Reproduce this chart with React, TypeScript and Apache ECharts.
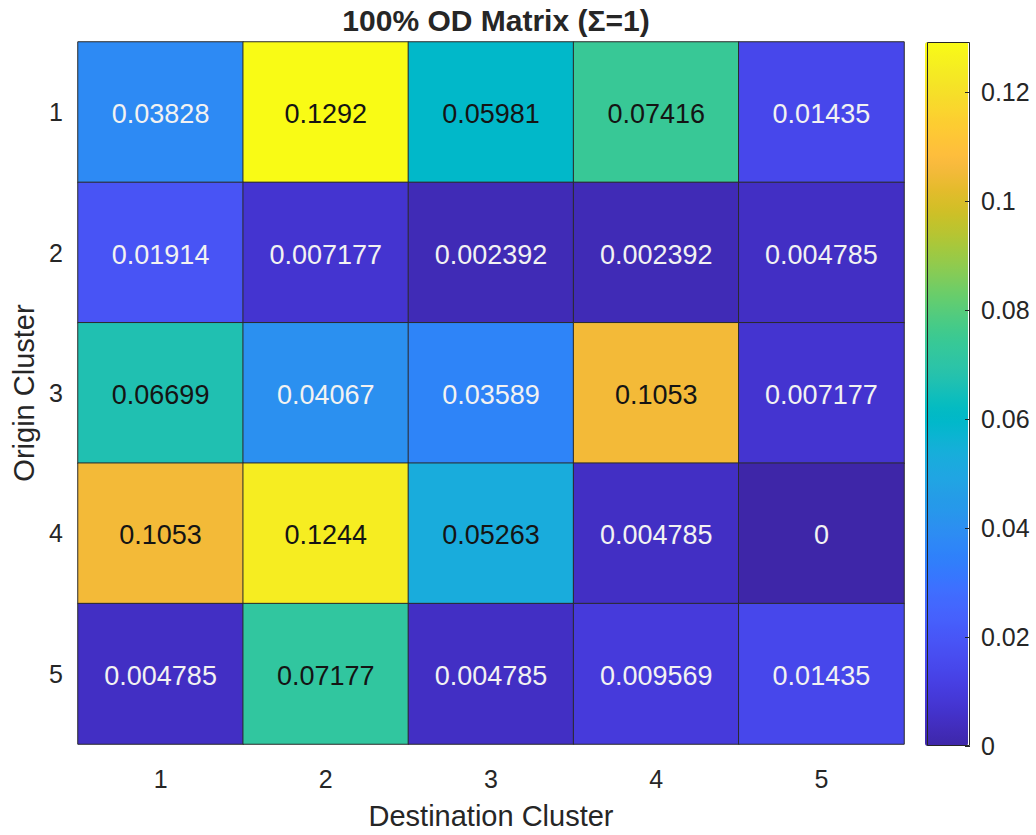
import React, { useEffect, useRef } from "react";
import * as echarts from "echarts";

const destinations = ["1", "2", "3", "4", "5"];
const origins = ["1", "2", "3", "4", "5"];
const row1 = [0.03828, 0.1292, 0.05981, 0.07416, 0.01435];
const row2 = [0.01914, 0.007177, 0.002392, 0.002392, 0.004785];
const row3 = [0.06699, 0.04067, 0.03589, 0.1053, 0.007177];
const row4 = [0.1053, 0.1244, 0.05263, 0.004785, 0];
const row5 = [0.004785, 0.07177, 0.004785, 0.009569, 0.01435];
const rows = [row1, row2, row3, row4, row5];
const colorbarTicks = [0, 0.02, 0.04, 0.06, 0.08, 0.1, 0.12];
const titleText = "100% OD Matrix (\u03A3=1)";

// MATLAB parula colormap (64 entries)
const parula64: number[][] = [
  [0.2422, 0.1504, 0.6603], [0.2504, 0.165, 0.7076], [0.2578, 0.1818, 0.7511], [0.2647, 0.1978, 0.7952],
  [0.2706, 0.2147, 0.8364], [0.2751, 0.2342, 0.871], [0.2783, 0.2559, 0.8991], [0.2803, 0.2782, 0.9221],
  [0.2813, 0.3006, 0.9414], [0.281, 0.3228, 0.9579], [0.2795, 0.3447, 0.9717], [0.276, 0.3667, 0.9829],
  [0.2699, 0.3892, 0.9906], [0.2602, 0.4123, 0.9952], [0.244, 0.4358, 0.9988], [0.2206, 0.4603, 0.9973],
  [0.1963, 0.4847, 0.9892], [0.1834, 0.5074, 0.9798], [0.1786, 0.5289, 0.9682], [0.1764, 0.5499, 0.952],
  [0.1687, 0.5703, 0.9359], [0.154, 0.5902, 0.9218], [0.146, 0.6091, 0.9079], [0.138, 0.6276, 0.8973],
  [0.1248, 0.6459, 0.8883], [0.1113, 0.6635, 0.8763], [0.0952, 0.6798, 0.8598], [0.0689, 0.6948, 0.8394],
  [0.0297, 0.7082, 0.8163], [0.0036, 0.7203, 0.7917], [0.0067, 0.7312, 0.766], [0.0433, 0.7411, 0.7394],
  [0.0964, 0.75, 0.712], [0.1408, 0.7584, 0.6842], [0.1717, 0.767, 0.6554], [0.1938, 0.7758, 0.6251],
  [0.2161, 0.7843, 0.5923], [0.247, 0.7918, 0.5567], [0.2906, 0.7973, 0.5188], [0.3406, 0.8008, 0.4789],
  [0.3909, 0.8029, 0.4354], [0.4456, 0.8024, 0.3909], [0.5044, 0.7993, 0.348], [0.5616, 0.7942, 0.3045],
  [0.6174, 0.7876, 0.2612], [0.672, 0.7793, 0.2227], [0.7242, 0.7698, 0.191], [0.7738, 0.7598, 0.1646],
  [0.8203, 0.7498, 0.1535], [0.8634, 0.7406, 0.1596], [0.9035, 0.733, 0.1774], [0.9393, 0.7288, 0.21],
  [0.9728, 0.7298, 0.2394], [0.9956, 0.7434, 0.2371], [0.997, 0.7659, 0.2199], [0.9952, 0.7893, 0.2028],
  [0.9892, 0.8136, 0.1885], [0.9786, 0.8386, 0.1766], [0.9676, 0.8639, 0.1643], [0.961, 0.889, 0.1537],
  [0.9597, 0.9135, 0.1423], [0.9628, 0.9373, 0.1265], [0.9691, 0.9606, 0.1064], [0.9769, 0.9839, 0.0805],
];
const parula = parula64.map(
  ([r, g, b]) => `rgb(${Math.round(r * 255)},${Math.round(g * 255)},${Math.round(b * 255)})`
);

const FONT = "'Liberation Sans', Arial, Helvetica, sans-serif";
const TXT = "#262626";

export default function App() {
  const ref = useRef<HTMLDivElement>(null);
  useEffect(() => {
    if (!ref.current) return;
    const chart = echarts.init(ref.current, undefined, { renderer: "svg" });
    const vmax = Math.max(...rows.flat());
    const vmin = Math.min(...rows.flat());
    const data: any[] = [];
    rows.forEach((r, yi) =>
      r.forEach((v, xi) => {
        const t = (v - vmin) / (vmax - vmin);
        data.push({
          value: [xi, yi, v],
          label: { color: t > 0.38 ? "#141414" : "#f2f2f2" },
        });
      })
    );
    chart.setOption({
      animation: false,
      textStyle: { fontFamily: FONT },
      title: {
        text: titleText,
        left: 491,
        textAlign: "center",
        top: 0,
        textStyle: { fontFamily: FONT, fontSize: 30, fontWeight: "bold", color: TXT },
      },
      grid: [
        { left: 78, top: 42, width: 826, height: 705, show: false },
        { left: 927, top: 42, width: 43, height: 704, show: false },
      ],
      xAxis: [
        {
          type: "category",
          gridIndex: 0,
          data: destinations,
          name: "Destination Cluster",
          nameLocation: "middle",
          nameGap: 57,
          nameTextStyle: { fontSize: 29, color: TXT, fontFamily: FONT },
          axisLine: { show: false },
          axisTick: { show: false },
          axisLabel: { fontSize: 25, color: TXT, margin: 22, fontFamily: FONT },
          splitLine: { show: false },
        },
        { type: "category", gridIndex: 1, data: ["c"], show: false },
      ],
      yAxis: [
        {
          type: "category",
          gridIndex: 0,
          data: origins,
          inverse: true,
          name: "Origin Cluster",
          nameLocation: "middle",
          nameGap: 40,
          nameTextStyle: { fontSize: 29, color: TXT, fontFamily: FONT },
          axisLine: { show: false },
          axisTick: { show: false },
          axisLabel: { fontSize: 25, color: TXT, margin: 15, fontFamily: FONT },
          splitLine: { show: false },
        },
        {
          type: "value",
          gridIndex: 1,
          position: "right",
          min: 0,
          max: vmax,
          interval: 0.02,
          z: 10,
          axisLine: { show: false, onZero: false },
          axisTick: { show: true, inside: true, length: 5, lineStyle: { color: TXT } },
          axisLabel: {
            fontSize: 25,
            color: TXT,
            margin: 11,
            fontFamily: FONT,
            showMaxLabel: false,
            formatter: (v: number) =>
              colorbarTicks.some((t) => Math.abs(t - v) < 1e-9) ? String(+v.toFixed(4)) : "",
          },
          splitLine: { show: false },
        },
      ],
      visualMap: {
        type: "continuous",
        min: vmin,
        max: vmax,
        seriesIndex: 0,
        calculable: false,
        left: 925,
        top: 42,
        padding: 0,
        itemWidth: 43,
        itemHeight: 704,
        showLabel: false,
        hoverLink: false,
        inRange: { color: parula },
      },
      graphic: [
        {
          type: "rect",
          z: 100,
          shape: { x: 927.5, y: 42.5, width: 42, height: 703 },
          style: { fill: "none", stroke: TXT, lineWidth: 1 },
          silent: true,
        },
      ],
      series: [
        {
          type: "heatmap",
          xAxisIndex: 0,
          yAxisIndex: 0,
          data,
          label: {
            show: true,
            fontSize: 27,
            fontFamily: FONT,
            offset: [0, 2],
            formatter: (p: any) => String(p.value[2]),
          },
          itemStyle: { borderColor: "#2a2a2a", borderWidth: 1 },
          emphasis: { disabled: true },
        },
      ],
    });
    return () => chart.dispose();
  }, []);
  return (
    <div
      ref={ref}
      style={{ position: "fixed", left: 0, top: 0, width: 1036, height: 835, background: "#fff" }}
    />
  );
}
